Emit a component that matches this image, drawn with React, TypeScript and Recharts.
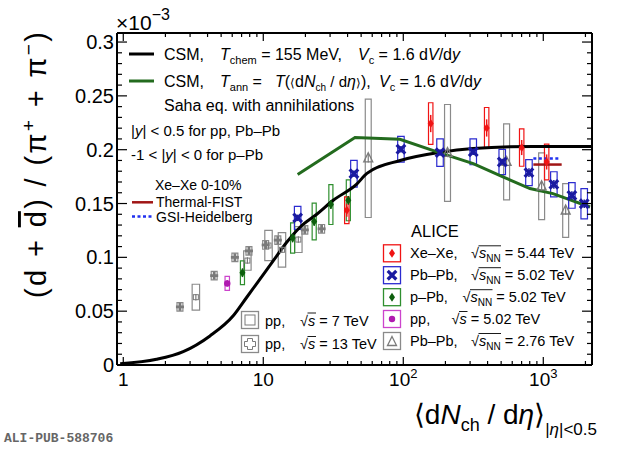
import React from "react";
import {
  ComposedChart,
  ErrorBar,
  Line,
  ReferenceArea,
  Scatter,
  XAxis,
  YAxis,
} from "recharts";

const W = 620;
const H = 449;
const FONT = '"Liberation Sans", Arial, Helvetica, sans-serif';

// axis ranges (y in units of 1e-3)
const X_DOMAIN: [number, number] = [0.902, 2228];
const Y_DOMAIN: [number, number] = [0, 0.3084];

const X_MAJOR = [1, 10, 100, 1000];
const X_LABEL_BASE = ["1", "10", "10", "10"];
const X_LABEL_EXP = ["", "", "2", "3"];
const Y_MAJOR = [0, 0.05, 0.1, 0.15, 0.2, 0.25, 0.3];
const Y_LABELS = ["0", "0.05", "0.1", "0.15", "0.2", "0.25", "0.3"];

// CSM, Tchem = 155 MeV
const csmChemX = [0.95, 1.73, 2.68, 4.16, 6.1, 7.6, 9.47, 11.8, 14.7, 18.3, 24.1, 31.6, 46.5, 55, 95, 183, 315, 845, 2228];
const csmChemY = [0.0012, 0.0053, 0.0124, 0.027, 0.0457, 0.0627, 0.0798, 0.0969, 0.114, 0.128, 0.14, 0.153, 0.168, 0.178, 0.19, 0.1975, 0.201, 0.203, 0.203];

// CSM, Tann = T(<dNch/deta>)
const csmAnnX = [17.6, 45.2, 94.6, 183, 316, 515, 803, 1172, 2157];
const csmAnnY = [0.177, 0.2113, 0.2097, 0.197, 0.187, 0.1747, 0.1639, 0.1592, 0.1468];

// Xe-Xe 0-10% model values
const fistX = [849, 1353];
const fistY = [0.1862, 0.1862];
const gsiX = [849, 1316];
const gsiY = [0.1918, 0.1918];

// Xe-Xe 5.44 TeV
const xexeX = [39.5, 157, 394, 701, 1057];
const xexeY = [0.1437, 0.2243, 0.2202, 0.202, 0.1886];
const xexeStat = [0.006, 0.008, 0.008, 0.007, 0.007];
const xexeSys = [0.0124, 0.0193, 0.019, 0.0174, 0.0166];

// Pb-Pb 5.02 TeV
const pbpbX = [17.6, 44.4, 96.2, 183, 316, 509, 790, 1190, 1600, 1960];
const pbpbY = [0.1367, 0.1777, 0.2004, 0.1973, 0.198, 0.1886, 0.1787, 0.1678, 0.1575, 0.1498];
const pbpbStat = [0.003, 0.003, 0.003, 0.003, 0.003, 0.003, 0.004, 0.004, 0.004, 0.004];
const pbpbSys = [0.0107, 0.0124, 0.012, 0.0128, 0.012, 0.0117, 0.0121, 0.0117, 0.0119, 0.014];

// p-Pb 5.02 TeV
const ppbX = [7.1, 16.2, 23.1, 30.4, 40.5];
const ppbY = [0.0857, 0.118, 0.1333, 0.149, 0.153];
const ppbStat = [0.004, 0.004, 0.004, 0.004, 0.004];
const ppbSys = [0.011, 0.014, 0.017, 0.0185, 0.019];

// pp 5.02 TeV
const pp5X = [5.53];
const pp5Y = [0.0758];
const pp5Stat = [0.003];
const pp5Sys = [0.0065];

// Pb-Pb 2.76 TeV
const pbpb276X = [56.2, 207, 547, 973, 1445];
const pbpb276Y = [0.192, 0.197, 0.1886, 0.166, 0.1435];
const pbpb276Stat = [0.004, 0.004, 0.004, 0.004, 0.004];
const pbpb276Sys = [0.055, 0.045, 0.0353, 0.031, 0.025];

// pp 13 TeV
const pp13X = [2.54, 4.46, 6.27, 7.9, 10.4, 12.7, 19.8, 26.1];
const pp13Y = [0.054, 0.083, 0.1, 0.106, 0.1115, 0.116, 0.1255, 0.1265];
const pp13Stat = [0.002, 0.002, 0.002, 0.002, 0.002, 0.002, 0.002, 0.002];
const pp13Sys = [0.004, 0.004, 0.004, 0.004, 0.004, 0.004, 0.004, 0.004];

// pp 7 TeV
const pp7X = [3.3, 7.7, 10.9, 13.6, 17.8];
const pp7Y = [0.063, 0.097, 0.111, 0.107, 0.1165];
const pp7Stat = [0.003, 0.003, 0.003, 0.003, 0.003];
const pp7Sys = [0.012, 0.009, 0.014, 0.016, 0.012];

type Pt = { x: number; y: number; stat: number; sys: number };

const curve = (xs: number[], ys: number[]) => xs.map((x, i) => ({ x, y: ys[i] }));
const points = (xs: number[], ys: number[], st: number[], sy: number[]): Pt[] =>
  xs.map((x, i) => ({ x, y: ys[i], stat: st[i], sys: sy[i] }));

const xTicks = X_MAJOR.flatMap((d) => [1, 2, 3, 4, 5, 6, 7, 8, 9].map((k) => d * k)).filter(
  (v) => v >= X_DOMAIN[0] && v <= X_DOMAIN[1]
);
const yTicks = Array.from({ length: 31 }, (_, i) => Math.round(i * 10) / 1000);
const isYMajor = (v: number) => Y_MAJOR.some((m) => Math.abs(m - v) < 1e-6);

const RED = "#f01414";
const BLUE_M = "#1a1aa0";
const BLUE_B = "#2b2bd0";
const GREEN_M = "#0d5e0d";
const GREEN_B = "#2f8f2f";
const MAG_M = "#b01ab0";
const MAG_B = "#cc44cc";
const GREY = "#7a7a7a";
const GREY_B = "#8a8a8a";

// marker shapes
const Diamond = ({ cx, cy, c }: any) => (
  <polygon points={`${cx},${cy - 4.5} ${cx + 3},${cy} ${cx},${cy + 4.5} ${cx - 3},${cy}`} fill={c} />
);
const XMark = ({ cx, cy, c }: any) => (
  <g stroke={c} strokeWidth={3.2}>
    <line x1={cx - 4.3} y1={cy - 4.3} x2={cx + 4.3} y2={cy + 4.3} />
    <line x1={cx - 4.3} y1={cy + 4.3} x2={cx + 4.3} y2={cy - 4.3} />
  </g>
);
const Dot = ({ cx, cy, c }: any) => <circle cx={cx} cy={cy} r={3.2} fill={c} />;
const Tri = ({ cx, cy, c }: any) => (
  <polygon points={`${cx},${cy - 5.5} ${cx + 4.5},${cy + 3.5} ${cx - 4.5},${cy + 3.5}`} fill="none" stroke={c} strokeWidth={1.3} />
);
const Plus = ({ cx, cy, c }: any) => (
  <g fill={c}>
    <rect x={cx - 4} y={cy - 1.4} width={8} height={2.8} />
    <rect x={cx - 1.4} y={cy - 4} width={2.8} height={8} />
  </g>
);
const OpenSq = ({ cx, cy, c }: any) => (
  <rect x={cx - 2.5} y={cy - 2.5} width={5} height={5} fill="none" stroke={c} strokeWidth={1} />
);

function XTickBottom(props: any) {
  const { x, y, payload } = props;
  const mi = X_MAJOR.indexOf(payload.value);
  return (
    <g>
      <line x1={x} x2={x} y1={y} y2={y - (mi >= 0 ? 8 : 4)} stroke="#000" strokeWidth={1.2} />
      {mi >= 0 && (
        <text x={x} y={y + 21} textAnchor="middle" fontSize={19} fontFamily={FONT} fill="#000">
          {X_LABEL_BASE[mi]}
          {X_LABEL_EXP[mi] && (
            <tspan dy={-8} fontSize={13}>
              {X_LABEL_EXP[mi]}
            </tspan>
          )}
        </text>
      )}
    </g>
  );
}

function XTickTop(props: any) {
  const { x, y, payload } = props;
  const major = X_MAJOR.includes(payload.value);
  return <line x1={x} x2={x} y1={y} y2={y + (major ? 8 : 4)} stroke="#000" strokeWidth={1.2} />;
}

function YTickLeft(props: any) {
  const { x, y, payload } = props;
  const mi = Y_MAJOR.findIndex((m) => Math.abs(m - payload.value) < 1e-6);
  return (
    <g>
      <line x1={x} x2={x + (mi >= 0 ? 10 : 5)} y1={y} y2={y} stroke="#000" strokeWidth={1.2} />
      {mi >= 0 && (
        <text x={x - 3} y={y + 7} textAnchor="end" fontSize={20} fontFamily={FONT} fill="#000">
          {Y_LABELS[mi]}
        </text>
      )}
    </g>
  );
}

function YTickRight(props: any) {
  const { x, y, payload } = props;
  return <line x1={x} x2={x - (isYMajor(payload.value) ? 10 : 5)} y1={y} y2={y} stroke="#000" strokeWidth={1.2} />;
}

function boxes(pts: Pt[], f: number, color: string, key: string) {
  return pts.map((p, i) => (
    <ReferenceArea
      key={key + i}
      x1={p.x / f}
      x2={p.x * f}
      y1={p.y - p.sys}
      y2={p.y + p.sys}
      fill="none"
      fillOpacity={0}
      stroke={color}
      strokeWidth={1.2}
      ifOverflow="visible"
    />
  ));
}

function Sqrt({ x, y, nn, rest }: { x: number; y: number; nn: boolean; rest: string }) {
  return (
    <g>
      <text x={x} y={y} fontSize={14.5} fontFamily={FONT}>
        √<tspan fontStyle="italic">s</tspan>
        {nn ? (
          <>
            <tspan dy={3.5} fontSize={10}>
              NN
            </tspan>
            <tspan dy={-3.5}>{rest}</tspan>
          </>
        ) : (
          <tspan>{rest}</tspan>
        )}
      </text>
      <line x1={x + 7.5} x2={x + (nn ? 30 : 16)} y1={y - 12.5} y2={y - 12.5} stroke="#000" strokeWidth={0.9} />
    </g>
  );
}

function Icon({ cx, cy, box, children }: any) {
  return (
    <g>
      <rect x={cx - 8.5} y={cy - 8.5} width={17} height={17} fill="none" stroke={box} strokeWidth={1.3} />
      {children}
    </g>
  );
}

const xexe = points(xexeX, xexeY, xexeStat, xexeSys);
const pbpb = points(pbpbX, pbpbY, pbpbStat, pbpbSys);
const ppb = points(ppbX, ppbY, ppbStat, ppbSys);
const pp5 = points(pp5X, pp5Y, pp5Stat, pp5Sys);
const pbpb276 = points(pbpb276X, pbpb276Y, pbpb276Stat, pbpb276Sys);
const pp13 = points(pp13X, pp13Y, pp13Stat, pp13Sys);
const pp7 = points(pp7X, pp7Y, pp7Stat, pp7Sys);

export default function App() {
  const rightRows = [
    { y: 258.3, label: "Xe–Xe,", sx: 471, nn: true, rest: " = 5.44 TeV", box: RED },
    { y: 280.2, label: "Pb–Pb,", sx: 471, nn: true, rest: " = 5.02 TeV", box: BLUE_B },
    { y: 302.2, label: "p–Pb,", sx: 462.5, nn: true, rest: " = 5.02 TeV", box: GREEN_B },
    { y: 324, label: "pp,", sx: 451.5, nn: false, rest: " = 5.02 TeV", box: MAG_B },
    { y: 346, label: "Pb–Pb,", sx: 471, nn: true, rest: " = 2.76 TeV", box: GREY_B },
  ];
  return (
    <div style={{ position: "absolute", left: 0, top: 0, width: W, height: H, background: "#fff" }}>
      <ComposedChart width={W} height={H} margin={{ top: 32, right: 27, bottom: 83, left: 116 }}>
        <XAxis
          dataKey="x"
          type="number"
          scale="log"
          domain={X_DOMAIN}
          allowDataOverflow
          ticks={xTicks}
          interval={0}
          height={1}
          tickSize={0}
          tickMargin={0}
          tickLine={false}
          tick={(p: any) => <XTickBottom {...p} />}
          axisLine={{ stroke: "#000", strokeWidth: 2 }}
        />
        <XAxis
          xAxisId="top"
          orientation="top"
          dataKey="x"
          type="number"
          scale="log"
          domain={X_DOMAIN}
          allowDataOverflow
          ticks={xTicks}
          interval={0}
          height={1}
          tickSize={0}
          tickMargin={0}
          tickLine={false}
          tick={(p: any) => <XTickTop {...p} />}
          axisLine={{ stroke: "#000", strokeWidth: 2 }}
        />
        <YAxis
          type="number"
          domain={Y_DOMAIN}
          allowDataOverflow
          ticks={yTicks}
          interval={0}
          width={1}
          tickSize={0}
          tickMargin={0}
          tickLine={false}
          tick={(p: any) => <YTickLeft {...p} />}
          axisLine={{ stroke: "#000", strokeWidth: 2 }}
        />
        <YAxis
          yAxisId="right"
          orientation="right"
          type="number"
          domain={Y_DOMAIN}
          allowDataOverflow
          ticks={yTicks}
          interval={0}
          width={1}
          tickSize={0}
          tickMargin={0}
          tickLine={false}
          tick={(p: any) => <YTickRight {...p} />}
          axisLine={{ stroke: "#000", strokeWidth: 2 }}
        />

        {boxes(pp7, 1.063, GREY_B, "pp7")}
        {boxes(pp13, 1.05, GREY_B, "pp13")}
        {boxes(pp5, 1.037, MAG_B, "pp5")}
        {boxes(ppb, 1.034, GREEN_B, "ppb")}
        {boxes(pbpb276, 1.05, GREY_B, "pb276")}
        {boxes(pbpb, 1.055, BLUE_B, "pbpb")}
        {boxes(xexe, 1.037, RED, "xexe")}

        <Line data={curve(csmChemX, csmChemY)} dataKey="y" type="monotone" stroke="#000" strokeWidth={3} dot={false} isAnimationActive={false} />
        <Line data={curve(csmAnnX, csmAnnY)} dataKey="y" type="linear" stroke="#236b1e" strokeWidth={3} dot={false} isAnimationActive={false} />
        <Line data={curve(fistX, fistY)} dataKey="y" type="linear" stroke="#a01515" strokeWidth={2.5} dot={false} isAnimationActive={false} />
        <Line data={curve(gsiX, gsiY)} dataKey="y" type="linear" stroke="#2030f0" strokeWidth={2.5} strokeDasharray="3 2.5" dot={false} isAnimationActive={false} />

        <Scatter data={pp7} dataKey="y" isAnimationActive={false} shape={(p: any) => <OpenSq cx={p.cx} cy={p.cy} c={GREY} />}>
          <ErrorBar dataKey="stat" direction="y" width={0} stroke={GREY} strokeWidth={1.2} />
        </Scatter>
        <Scatter data={pp13} dataKey="y" isAnimationActive={false} shape={(p: any) => <Plus cx={p.cx} cy={p.cy} c={GREY} />}>
          <ErrorBar dataKey="stat" direction="y" width={0} stroke={GREY} strokeWidth={1.2} />
        </Scatter>
        <Scatter data={pp5} dataKey="y" isAnimationActive={false} shape={(p: any) => <Dot cx={p.cx} cy={p.cy} c={MAG_M} />}>
          <ErrorBar dataKey="stat" direction="y" width={0} stroke={MAG_M} strokeWidth={1.5} />
        </Scatter>
        <Scatter data={ppb} dataKey="y" isAnimationActive={false} shape={(p: any) => <Diamond cx={p.cx} cy={p.cy} c={GREEN_M} />}>
          <ErrorBar dataKey="stat" direction="y" width={0} stroke={GREEN_M} strokeWidth={1.5} />
        </Scatter>
        <Scatter data={pbpb276} dataKey="y" isAnimationActive={false} shape={(p: any) => <Tri cx={p.cx} cy={p.cy} c={GREY} />}>
          <ErrorBar dataKey="stat" direction="y" width={0} stroke={GREY} strokeWidth={1.2} />
        </Scatter>
        <Scatter data={pbpb} dataKey="y" isAnimationActive={false} shape={(p: any) => <XMark cx={p.cx} cy={p.cy} c={BLUE_M} />}>
          <ErrorBar dataKey="stat" direction="y" width={0} stroke={BLUE_M} strokeWidth={1.5} />
        </Scatter>
        <Scatter data={xexe} dataKey="y" isAnimationActive={false} shape={(p: any) => <Diamond cx={p.cx} cy={p.cy} c={RED} />}>
          <ErrorBar dataKey="stat" direction="y" width={0} stroke={RED} strokeWidth={1.5} />
        </Scatter>
      </ComposedChart>

      <svg width={W} height={H} style={{ position: "absolute", left: 0, top: 0, pointerEvents: "none" }} fontFamily={FONT}>
        {/* axis multiplier */}
        <text x={116} y={30} fontSize={21}>
          ×10<tspan dy={-10} fontSize={16}>−3</tspan>
        </text>

        {/* axis titles */}
        <text transform="translate(46,32) rotate(-90)" textAnchor="end" fontSize={29} textLength={266} lengthAdjust="spacing">
          (d + <tspan style={{ textDecoration: "overline" }}>d</tspan>) / (π
          <tspan dy={-11} fontSize={19}>+</tspan>
          <tspan dy={11}> + </tspan>
          <tspan>π</tspan>
          <tspan dy={-11} fontSize={19}>−</tspan>
          <tspan dy={11}>)</tspan>
        </text>
        <text x={597} y={424} textAnchor="end" fontSize={28}>
          ⟨d<tspan fontStyle="italic">N</tspan>
          <tspan dy={7} fontSize={18}>ch</tspan>
          <tspan dy={-7}> / d</tspan>
          <tspan fontStyle="italic">η</tspan>⟩
          <tspan dy={11} fontSize={17}>|</tspan>
          <tspan fontSize={17} fontStyle="italic">η</tspan>
          <tspan fontSize={17}>|&lt;0.5</tspan>
        </text>

        {/* model legend */}
        <line x1={129} x2={154} y1={54} y2={54} stroke="#000" strokeWidth={3} />
        <text y={59.5} fontSize={16}>
          <tspan x={164}>CSM,</tspan>
          <tspan x={220} fontStyle="italic">T</tspan>
          <tspan dy={4} fontSize={11}>chem</tspan>
          <tspan dy={-4}> = 155 MeV,</tspan>
          <tspan x={358} fontStyle="italic">V</tspan>
          <tspan dy={4} fontSize={11}>c</tspan>
          <tspan dy={-4}> = 1.6 d</tspan>
          <tspan fontStyle="italic">V</tspan>
          <tspan>/d</tspan>
          <tspan fontStyle="italic">y</tspan>
        </text>
        <line x1={129} x2={154} y1={81} y2={81} stroke="#236b1e" strokeWidth={3} />
        <text y={87} fontSize={16}>
          <tspan x={164}>CSM,</tspan>
          <tspan x={220} fontStyle="italic">T</tspan>
          <tspan dy={4} fontSize={11}>ann</tspan>
          <tspan dy={-4}> = </tspan>
          <tspan x={275} fontStyle="italic">T</tspan>
          <tspan>(</tspan>
          <tspan fontSize={12}>⟨</tspan>
          <tspan>d</tspan>
          <tspan fontStyle="italic">N</tspan>
          <tspan dy={4} fontSize={10}>ch</tspan>
          <tspan dy={-4} fontSize={15}> / d</tspan>
          <tspan fontStyle="italic">η</tspan>
          <tspan fontSize={12}>⟩</tspan>
          <tspan>),</tspan>
          <tspan x={379} fontStyle="italic">V</tspan>
          <tspan dy={4} fontSize={11}>c</tspan>
          <tspan dy={-4}> = 1.6 d</tspan>
          <tspan fontStyle="italic">V</tspan>
          <tspan>/d</tspan>
          <tspan fontStyle="italic">y</tspan>
        </text>
        <text x={164} y={110.5} fontSize={16}>
          Saha eq. with annihilations
        </text>
        <text x={131} y={136} fontSize={15}>
          |<tspan fontStyle="italic">y</tspan>| &lt; 0.5 for pp, Pb–Pb
        </text>
        <text x={131} y={159.5} fontSize={15}>
          -1 &lt; |<tspan fontStyle="italic">y</tspan>| &lt; 0 for p–Pb
        </text>
        <text x={155} y={189.5} fontSize={14}>
          Xe–Xe 0-10%
        </text>
        <line x1={132} x2={153} y1={202.3} y2={202.3} stroke="#a01515" strokeWidth={2.5} />
        <text x={156} y={207} fontSize={14}>
          Thermal-FIST
        </text>
        <line x1={132} x2={153} y1={216.5} y2={216.5} stroke="#2030f0" strokeWidth={2.5} strokeDasharray="3 2.5" />
        <text x={156} y={221.5} fontSize={14}>
          GSI-Heidelberg
        </text>

        {/* data legend */}
        <text x={411} y={237} fontSize={16.5}>
          ALICE
        </text>
        {rightRows.map((r, i) => (
          <g key={i}>
            <Icon cx={392} cy={r.y - 5} box={r.box}>
              {i === 0 && <Diamond cx={392} cy={r.y - 5} c={RED} />}
              {i === 1 && <XMark cx={392} cy={r.y - 5} c={BLUE_M} />}
              {i === 2 && <Diamond cx={392} cy={r.y - 5} c={GREEN_M} />}
              {i === 3 && <Dot cx={392} cy={r.y - 5} c={MAG_M} />}
              {i === 4 && <Tri cx={392} cy={r.y - 4} c={GREY} />}
            </Icon>
            <text x={410} y={r.y} fontSize={14.5}>
              {r.label}
            </text>
            <Sqrt x={r.sx} y={r.y} nn={r.nn} rest={r.rest} />
          </g>
        ))}
        <Icon cx={250} cy={320} box={GREY_B}>
          <rect x={245} y={315} width={10} height={10} fill="none" stroke={GREY} strokeWidth={1} />
        </Icon>
        <text x={265} y={325.5} fontSize={14.5}>
          pp,
        </text>
        <Sqrt x={300} y={325.5} nn={false} rest=" = 7 TeV" />
        <Icon cx={250} cy={344} box={GREY_B}>
          <path
            d="M247.5,338.5 h5 v3 h3 v5 h-3 v3 h-5 v-3 h-3 v-5 h3 z"
            fill="none"
            stroke={GREY}
            strokeWidth={1}
          />
        </Icon>
        <text x={265} y={349} fontSize={14.5}>
          pp,
        </text>
        <Sqrt x={300} y={349} nn={false} rest=" = 13 TeV" />

        <text x={4} y={442} fontSize={13} fontWeight="bold" fill="#666" fontFamily='"Liberation Mono", "DejaVu Sans Mono", monospace'>
          ALI-PUB-588706
        </text>
      </svg>
    </div>
  );
}
